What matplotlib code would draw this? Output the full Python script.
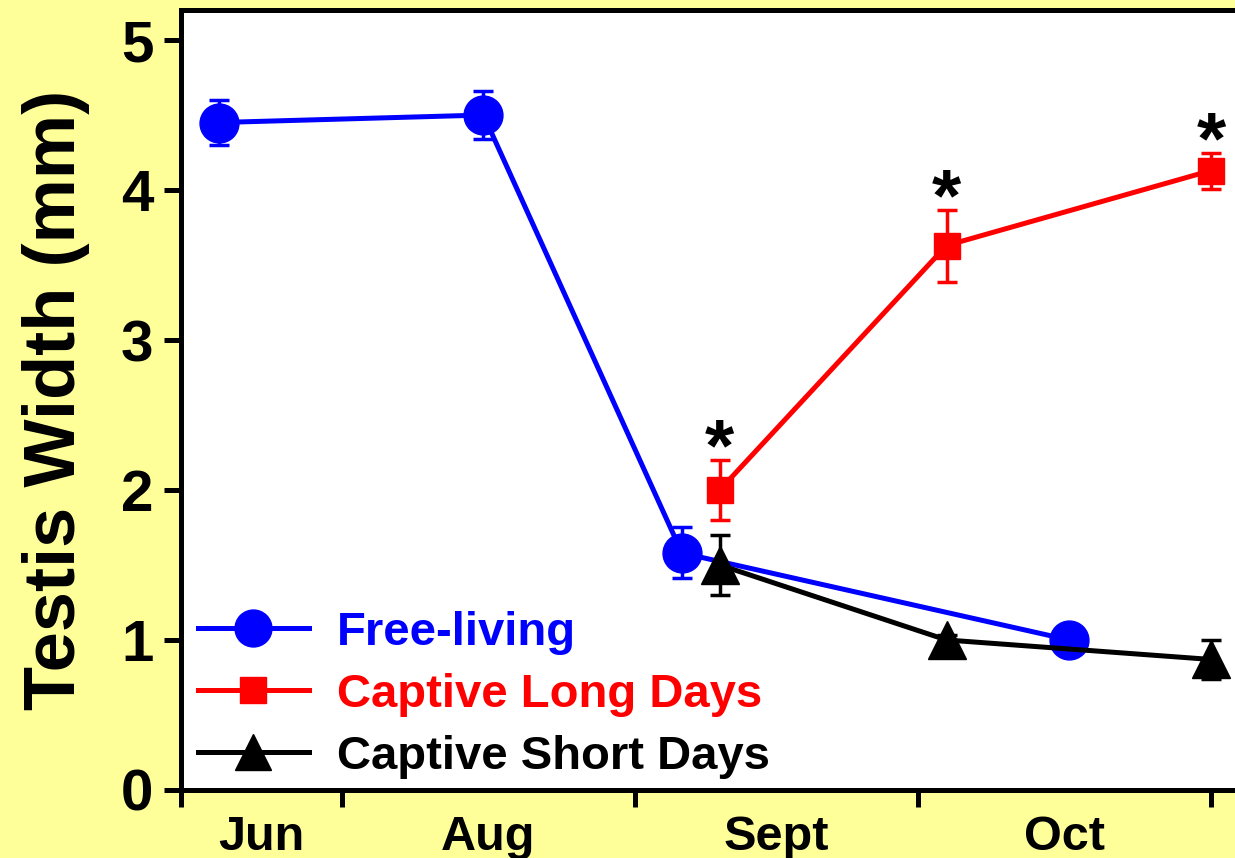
import matplotlib
matplotlib.use("Agg")
import matplotlib.pyplot as plt
from matplotlib.lines import Line2D
from matplotlib.ticker import FixedLocator, NullFormatter

plt.rcParams['font.family'] = ['Liberation Sans', 'DejaVu Sans']
plt.rcParams['font.weight'] = 'bold'

# days from start of axis (early June)
free_x = [4, 32, 53, 94]
free_y = [4.45, 4.50, 1.58, 1.00]
free_err = [0.15, 0.16, 0.17, 0.0]

long_x = [57, 81, 109]
long_y = [2.00, 3.63, 4.13]
long_err = [0.20, 0.24, 0.12]

short_x = [57, 81, 109]
short_y = [1.50, 1.00, 0.87]
short_err = [0.20, 0.03, 0.13]

month_edges = [0, 17, 48, 78, 109]
month_mid = [8.5, 32.5, 63, 93.5]
month_labels = ['Jun', 'Aug', 'Sept', 'Oct']

series_names = ['Free-living', 'Captive Long Days', 'Captive Short Days']
series_colors = ['#0000FF', '#FF0000', 'black']
series_markers = ['o', 's', '^']
series_ms = [28, 19, 27]

bg = '#FFFF99'
fig = plt.figure(figsize=(12.35, 8.58), dpi=100, facecolor=bg)
ax = fig.add_axes([0.1466, 0.0793, 0.880, 0.909])
ax.set_facecolor('white')

lw = 3.6
common = dict(lw=lw, elinewidth=2.5, capsize=7, capthick=2.5)
ax.errorbar(free_x, free_y, yerr=free_err, color=series_colors[0], marker='o',
            ms=series_ms[0], zorder=3, **common)
ax.errorbar(long_x, long_y, yerr=long_err, color=series_colors[1], marker='s',
            ms=series_ms[1], zorder=4, **common)
ax.errorbar(short_x, short_y, yerr=short_err, color=series_colors[2], marker='^',
            ms=series_ms[2], zorder=4, **common)

# significance stars above long-day points
for x, y, e in zip(long_x, long_y, long_err):
    ax.text(x, y + e - 0.07, '*', ha='center', va='baseline', fontsize=54,
            fontweight='bold', color='black')

ax.set_xlim(0, 115)
ax.set_ylim(0, 5.2)
ax.set_yticks([0, 1, 2, 3, 4, 5])
ax.tick_params(axis='y', labelsize=42, width=lw, length=12, pad=8)
ax.xaxis.set_major_locator(FixedLocator(month_edges))
ax.xaxis.set_major_formatter(NullFormatter())
ax.xaxis.set_minor_locator(FixedLocator(month_mid))
ax.set_xticklabels(month_labels, minor=True)
ax.tick_params(axis='x', which='major', width=lw, length=12)
ax.tick_params(axis='x', which='minor', length=0, labelsize=35, pad=18)

for s in ax.spines.values():
    s.set_linewidth(lw)

ax.set_ylabel('Testis Width (mm)', fontsize=52, fontweight='bold', labelpad=22)

handles = [Line2D([], [], color=c, marker=m, ms=ms * 0.95, lw=lw)
           for c, m, ms in zip(series_colors, series_markers, series_ms)]
leg = ax.legend(handles, series_names, loc='lower left', frameon=False,
                fontsize=34, handlelength=2.35, labelspacing=0.38,
                borderaxespad=0.0, handletextpad=0.6,
                bbox_to_anchor=(-0.002, -0.01))
for t, c in zip(leg.get_texts(), series_colors):
    t.set_color(c)

fig.savefig('out.png', dpi=100, facecolor=bg)
